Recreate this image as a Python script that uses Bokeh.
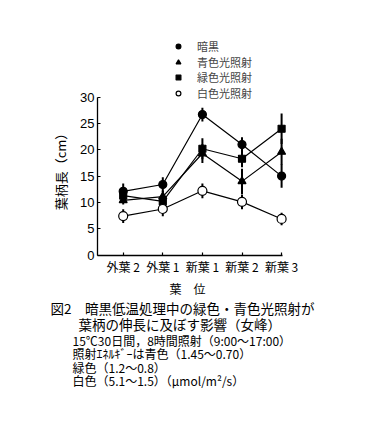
from bokeh.plotting import figure
from bokeh.models import Range1d, Legend, LegendItem, Label, FixedTicker, ColumnDataSource
from bokeh.embed import file_html
from bokeh.resources import INLINE
import math

# ---------------- data ----------------
positions = [1, 2, 3, 4, 5]
categories = ["外葉 2", "外葉 1", "新葉 1", "新葉 2", "新葉 3"]
y_ticks = [0, 5, 10, 15, 20, 25, 30]

dark = [12.1, 13.4, 26.7, 21.0, 15.0]
dark_err = [1.5, 1.4, 1.3, 1.4, 2.2]
blue = [10.4, 11.1, 19.3, 14.0, 19.6]
blue_err = [0.8, 1.1, 1.8, 2.4, 2.5]
green = [11.3, 10.2, 20.2, 18.3, 24.0]
green_err = [1.0, 1.0, 2.0, 1.6, 2.9]
white = [7.4, 8.75, 12.2, 10.1, 6.85]
white_err = [1.3, 1.4, 1.4, 1.4, 1.2]

series_names = ["暗黒", "青色光照射", "緑色光照射", "白色光照射"]

caption_lines = [
    "図2　暗黒低温処理中の緑色・青色光照射が",
    "葉柄の伸長に及ぼす影響（女峰）",
    "15℃30日間，8時間照射（9:00～17:00）",
    "照射ｴﾈﾙｷﾞｰは青色（1.45～0.70）",
    "緑色（1.2～0.8）",
    "白色（5.1～1.5）（μmol/m²/s）",
]

y_title = "葉柄長（cm）"
x_title = "葉　位"

JP = "Noto Sans CJK JP"
NUM = "Liberation Sans"

# ---------------- geometry (page pixels) ----------------
W, H = 389, 435
L, B = 30, 25               # reserved side panels (axes are drawn at fixed locations)
TICK1_PX = 122.7            # page x of the first category
Y0_PX = 254.5               # page y of value 0
PX_X = 39.6                 # pixels per category step
PX_Y = 5.26                 # pixels per cm
AXIS_X_PX = 97              # page x of the y axis line


def dx(px):
    return 1 + (px - TICK1_PX) / PX_X


def dy(py):
    return (Y0_PX - py) / PX_Y


X0 = dx(AXIS_X_PX)

p = figure(
    width=W, height=H,
    x_range=Range1d(dx(L), dx(W)),
    y_range=Range1d(dy(H - B), dy(0)),
    min_border_left=L, min_border_right=0,
    min_border_top=0, min_border_bottom=B,
    output_backend="svg", toolbar_location=None,
    background_fill_color="white", border_fill_color="white",
)
p.outline_line_color = None
p.grid.visible = False

p.yaxis.fixed_location = X0
p.xaxis.fixed_location = 0
p.yaxis.bounds = (0, 30)
p.yaxis.ticker = FixedTicker(ticks=y_ticks)
p.xaxis.bounds = (X0, 5.02)
p.xaxis.ticker = FixedTicker(ticks=positions)
p.xaxis.major_label_overrides = {pos: c for pos, c in zip(positions, categories)}

for ax in (p.xaxis[0], p.yaxis[0]):
    ax.axis_line_width = 1.3
    ax.axis_line_color = "black"
    ax.major_tick_in = 3
    ax.major_tick_out = 0
    ax.major_tick_line_width = 1.2
    ax.minor_tick_line_color = None
    ax.major_label_standoff = 3

p.yaxis.major_label_text_font = NUM
p.yaxis.major_label_text_font_size = "13px"
p.yaxis.major_label_text_color = "black"
p.xaxis.major_label_text_font = JP
p.xaxis.major_label_text_font_size = "12px"
p.xaxis.major_label_text_color = "black"

series = [
    (dark, dark_err, "circle", "black", 8),
    (blue, blue_err, "triangle", "black", 8),
    (green, green_err, "square", "black", 7),
    (white, white_err, "circle", "white", 9),
]

# error bars
for vals, errs, _, _, _ in series:
    src = ColumnDataSource(dict(x=positions,
                                lo=[v - e for v, e in zip(vals, errs)],
                                hi=[v + e for v, e in zip(vals, errs)]))
    p.segment(x0="x", y0="lo", x1="x", y1="hi", source=src,
              line_color="black", line_width=2)

# lines
for vals, _, _, _, _ in series:
    p.line(positions, vals, line_color="black", line_width=1.2)

# markers + one legend per row (rows packed tightly)
FRAME_BOTTOM = H - B
ROW_H = 16
row_centers = [46, 62, 77, 93]
for (vals, _, marker, fill, size), name, cy in zip(series, series_names, row_centers):
    r = p.scatter(positions, vals, marker=marker, size=size,
                  fill_color=fill, line_color="black", line_width=1.2)
    lg = Legend(items=[LegendItem(label=name, renderers=[r])],
                location=(172 - L, FRAME_BOTTOM - cy - ROW_H / 2))
    lg.border_line_color = None
    lg.background_fill_alpha = 0
    lg.padding = 0
    lg.margin = 0
    lg.spacing = 0
    lg.glyph_width = 12
    lg.glyph_height = 12
    lg.label_height = 12
    lg.label_standoff = 13
    lg.label_text_font = JP
    lg.label_text_font_size = "11px"
    lg.label_text_baseline = "middle"
    p.add_layout(lg)

# axis titles
p.add_layout(Label(x=dx(60), y=dy(168), text=y_title, angle=math.pi / 2,
                   text_align="center", text_baseline="middle",
                   text_font=JP, text_font_size="13px", text_color="black"))
p.add_layout(Label(x=dx(187), y=dy(288), text=x_title,
                   text_align="center", text_baseline="middle",
                   text_font=JP, text_font_size="12px", text_color="black"))

# ---------------- caption ----------------
cap_x = [50, 78, 72, 72, 72, 72]
cap_y = [307, 323, 340, 353, 367, 380]
cap_size = ["13.5px", "13.5px", "12px", "12px", "12px", "12px"]
for t, x, y, s in zip(caption_lines, cap_x, cap_y, cap_size):
    p.add_layout(Label(x=dx(x), y=dy(y), text=t, text_align="left", text_baseline="middle",
                       text_font=JP, text_font_size=s, text_color="black"))

open("out.html", "w").write(file_html(p, INLINE))
